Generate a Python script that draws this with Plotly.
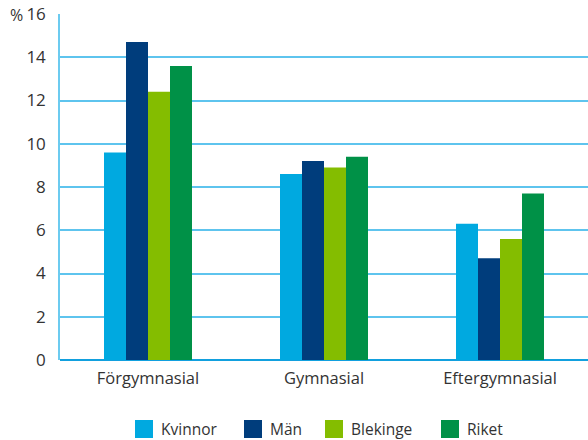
import plotly.graph_objects as go

categories = ["Förgymnasial", "Gymnasial", "Eftergymnasial"]
series_names = ["Kvinnor", "Män", "Blekinge", "Riket"]
kvinnor = [9.6, 8.6, 6.3]
man = [14.7, 9.2, 4.7]
blekinge = [12.4, 8.9, 5.6]
riket = [13.6, 9.4, 7.7]
y_ticks = [0, 2, 4, 6, 8, 10, 12, 14, 16]

colors = ["#00A9E0", "#003D7C", "#84BD00", "#009147"]
values = [kvinnor, man, blekinge, riket]

W, H = 588, 440
L, R, T, B = 60, 0, 14, 80
FONT = "Open Sans"
TEXT = "#333333"

fig = go.Figure()
for name, vals, col in zip(series_names, values, colors):
    fig.add_trace(go.Bar(x=categories, y=vals, name=name, marker_color=col,
                         marker_line_width=0, showlegend=False))

# Legend drawn as squares + labels below the plot area
plot_w = W - L - R
plot_h = H - T - B
legend_x = [135, 244, 325, 441]
legend_cy = 429
sq = 18
shapes = []
annotations = []
for name, col, px in zip(series_names, colors, legend_x):
    x0 = (px - L) / plot_w
    x1 = (px + sq - L) / plot_w
    y0 = (H - B - (legend_cy + sq / 2)) / plot_h
    y1 = (H - B - (legend_cy - sq / 2)) / plot_h
    shapes.append(dict(type="rect", xref="paper", yref="paper", x0=x0, x1=x1,
                       y0=y0, y1=y1, fillcolor=col, line_width=0))
    annotations.append(dict(text=name, xref="paper", yref="paper",
                            x=(px + sq + 6 - L) / plot_w,
                            y=(H - B - legend_cy) / plot_h,
                            xanchor="left", yanchor="middle", showarrow=False,
                            font=dict(family=FONT, size=15.5, color=TEXT)))

annotations.append(dict(text="%", xref="paper", yref="paper",
                        x=(16.5 - L) / plot_w, y=(H - B - 15) / plot_h,
                        xanchor="center", yanchor="middle", showarrow=False,
                        font=dict(family=FONT, size=16, color=TEXT)))

fig.update_layout(
    width=W, height=H,
    margin=dict(l=L, r=R, t=T, b=B),
    plot_bgcolor="white", paper_bgcolor="white",
    barmode="group", bargap=0.5, bargroupgap=0,
    font=dict(family=FONT, size=16, color=TEXT),
    shapes=shapes, annotations=annotations,
    xaxis=dict(showgrid=False, ticks="", showline=False, zeroline=False,
               ticklabelstandoff=6,
               tickfont=dict(size=16.5, color=TEXT)),
    yaxis=dict(range=[0, 16], tickvals=y_ticks, showgrid=True,
               gridcolor="#5EC4EE", gridwidth=1.5, zeroline=True,
               zerolinecolor="#12A0DE", zerolinewidth=2,
               showline=True, linecolor="#6CCBF0", linewidth=1.5,
               ticks="", ticklabelstandoff=9,
               tickfont=dict(size=17, color=TEXT)),
)

fig.write_html("out.html")
